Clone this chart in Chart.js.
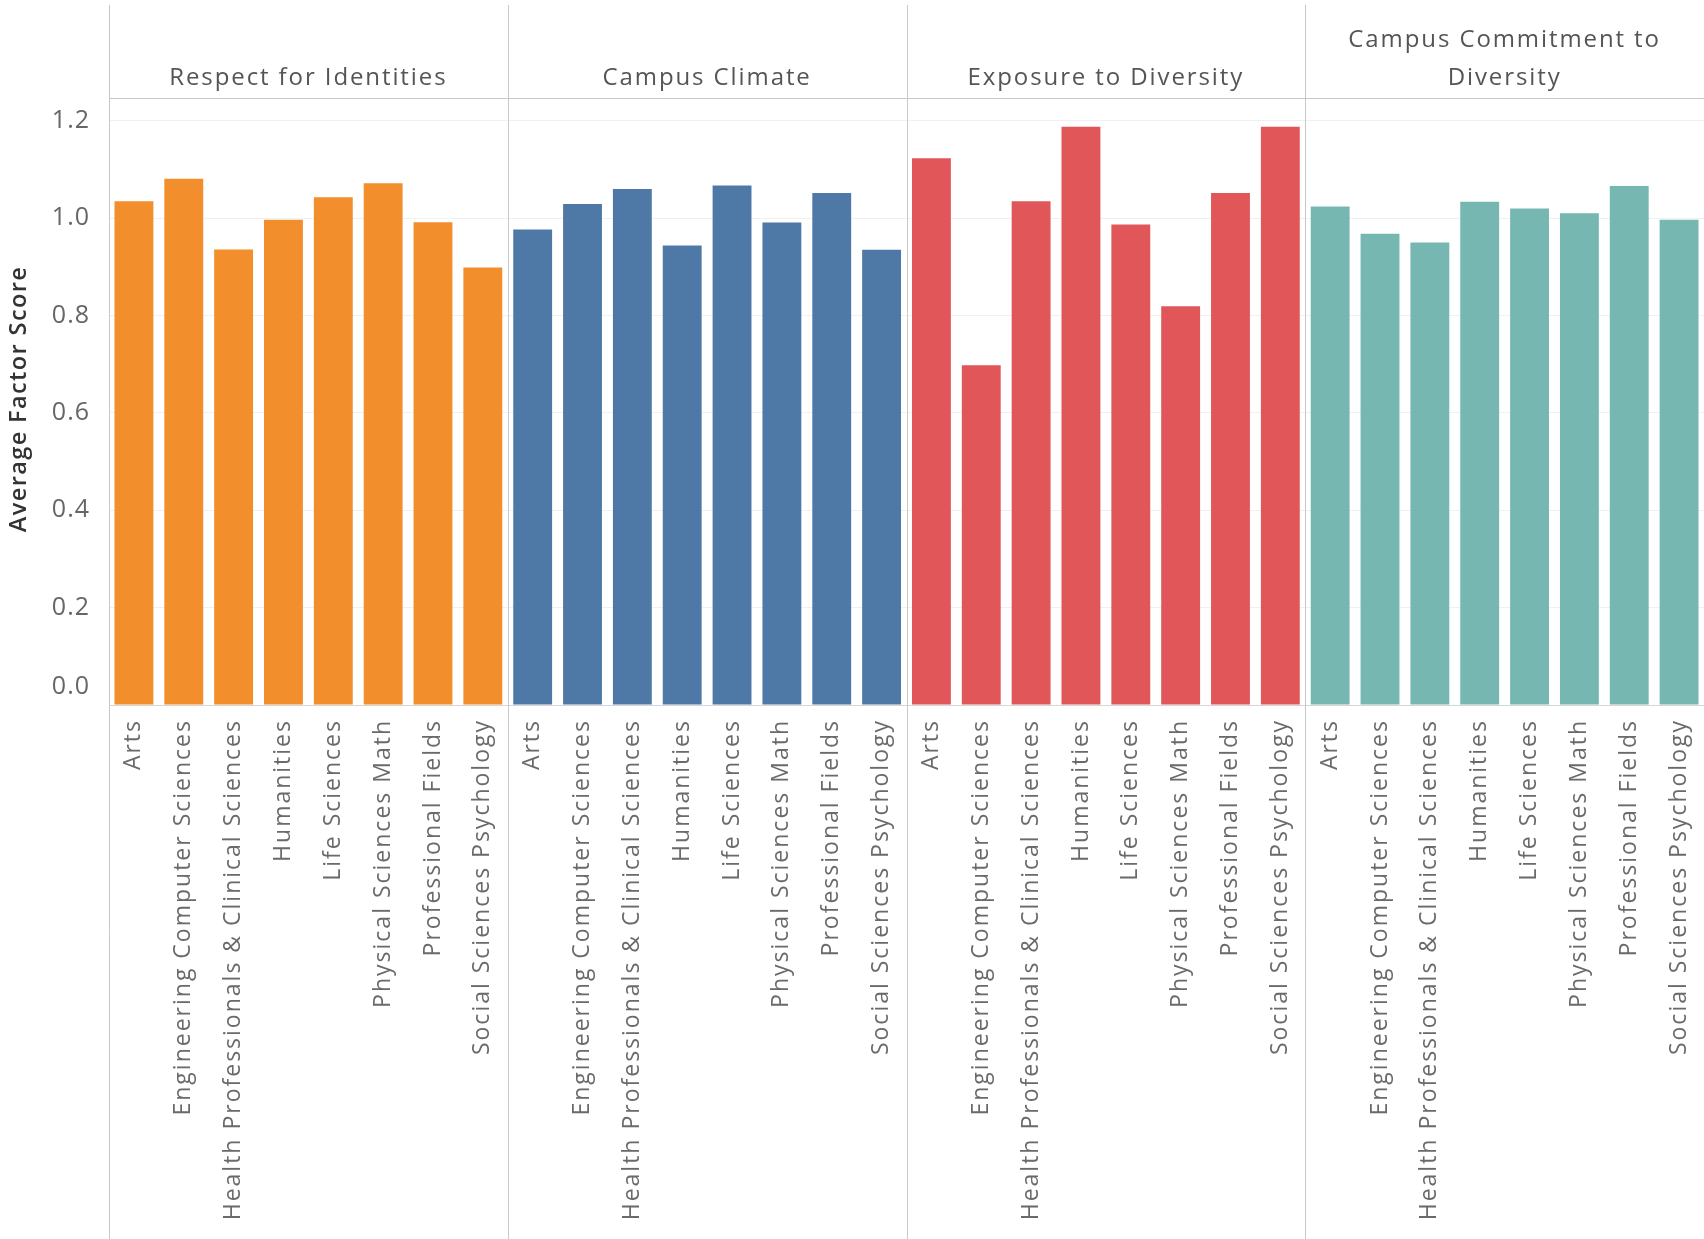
<!DOCTYPE html>
<html>
<head>
<meta charset="utf-8">
<script src="https://cdn.jsdelivr.net/npm/chart.js@4.4.1/dist/chart.umd.min.js"></script>
<style>
html, body { margin: 0; padding: 0; background: #fff; }
#wrap { width: 1704px; height: 1239px; }
</style>
</head>
<body>
<div id="wrap"><canvas id="chart" width="1704" height="1239"></canvas></div>
<script>
// --- data ---
const categories = [
    'Arts',
    'Engineering Computer Sciences',
    'Health Professionals & Clinical Sciences',
    'Humanities',
    'Life Sciences',
    'Physical Sciences Math',
    'Professional Fields',
    'Social Sciences Psychology'
];
const factors = ['Respect for Identities', 'Campus Climate', 'Exposure to Diversity', 'Campus Commitment to Diversity'];
const headerLines = [['Respect for Identities'], ['Campus Climate'], ['Exposure to Diversity'], ['Campus Commitment to', 'Diversity']];
const respectScores = [1.035, 1.081, 0.936, 0.997, 1.043, 1.072, 0.992, 0.899];
const climateScores = [0.977, 1.029, 1.060, 0.944, 1.067, 0.991, 1.052, 0.935];
const exposureScores = [1.123, 0.698, 1.035, 1.188, 0.987, 0.819, 1.052, 1.188];
const commitmentScores = [1.024, 0.968, 0.950, 1.034, 1.020, 1.010, 1.066, 0.997];
const yTicks = [0, 0.2, 0.4, 0.6, 0.8, 1.0, 1.2];

const factorColors = ['#f28e2b', '#4e79a7', '#e15759', '#76b7b2'];
const allScores = [respectScores, climateScores, exposureScores, commitmentScores];
const FONT = '"Open Sans", Lato, sans-serif';

// one slot per (factor, category) pair
const labels = factors.flatMap(() => categories);
const nCat = categories.length;

const datasets = factors.map((f, i) => ({
    label: f,
    data: labels.map((_, j) => Math.floor(j / nCat) === i ? allScores[i][j % nCat] : null),
    backgroundColor: factorColors[i],
    grouped: false,
    barPercentage: 0.78,
    categoryPercentage: 1.0
}));

// panel frames, headers and the y axis text
const panelPlugin = {
    id: 'panels',
    beforeDraw(chart) {
        // tableau-ish airy text for the category labels
        chart.ctx.letterSpacing = '2px';
    },
    afterDraw(chart) {
        const { ctx, chartArea, scales: { x, y } } = chart;
        const half = (x.getPixelForValue(1) - x.getPixelForValue(0)) / 2;
        const bounds = factors.map((_, i) => x.getPixelForValue(i * nCat) - half);
        bounds.push(chartArea.right);

        ctx.save();
        ctx.strokeStyle = '#c8c8c8';
        ctx.lineWidth = 1;
        bounds.slice(0, factors.length).forEach(bx => {
            const px = Math.round(bx) + 0.5;
            ctx.beginPath();
            ctx.moveTo(px, 5);
            ctx.lineTo(px, chart.height);
            ctx.stroke();
        });
        ctx.beginPath();
        ctx.moveTo(chartArea.left, Math.round(chartArea.top) + 0.5);
        ctx.lineTo(chartArea.right, Math.round(chartArea.top) + 0.5);
        ctx.stroke();

        // headers
        ctx.letterSpacing = '1.9px';
        ctx.fillStyle = '#555';
        ctx.font = '24px ' + FONT;
        ctx.textAlign = 'center';
        ctx.textBaseline = 'middle';
        headerLines.forEach((lines, i) => {
            const cx = (bounds[i] + bounds[i + 1]) / 2;
            const lastY = 78;
            lines.forEach((t, k) => {
                ctx.fillText(t, cx, lastY - (lines.length - 1 - k) * 38);
            });
        });

        // y tick labels
        ctx.letterSpacing = '1px';
        ctx.fillStyle = '#666';
        ctx.font = '25px ' + FONT;
        ctx.textAlign = 'right';
        yTicks.forEach(v => {
            let py = y.getPixelForValue(v);
            if (v === 0) py -= 18;
            ctx.fillText(v.toFixed(1), 90, py);
        });

        // y title
        ctx.letterSpacing = '1.4px';
        ctx.translate(19, 399);
        ctx.rotate(-Math.PI / 2);
        ctx.textAlign = 'center';
        ctx.fillStyle = '#333';
        ctx.font = '600 23.5px ' + FONT;
        ctx.fillText('Average Factor Score', 0, 0);
        ctx.restore();
    }
};

new Chart(document.getElementById('chart'), {
    type: 'bar',
    data: { labels, datasets },
    options: {
        responsive: false,
        animation: false,
        devicePixelRatio: 1,
        layout: { padding: { top: 98, right: 0, bottom: 0, left: 0 } },
        plugins: { legend: { display: false }, tooltip: { enabled: false } },
        scales: {
            x: {
                grid: { display: false },
                border: { display: true, color: '#d6d6d6' },
                ticks: {
                    autoSkip: false,
                    minRotation: 90,
                    maxRotation: 90,
                    padding: 6,
                    color: '#6a6a6a',
                    font: { family: FONT, size: 23 }
                },
                afterFit(scale) {
                    scale.height = 534;
                    scale.paddingLeft = 0;
                    scale.paddingRight = 0;
                }
            },
            y: {
                min: 0,
                max: 1.247,
                grid: { color: '#f0f0f0', drawTicks: false },
                border: { display: false },
                ticks: { display: false },
                afterBuildTicks(scale) { scale.ticks = yTicks.map(v => ({ value: v })); },
                afterFit(scale) { scale.width = 109; }
            }
        }
    },
    plugins: [panelPlugin]
});
</script>
</body>
</html>
